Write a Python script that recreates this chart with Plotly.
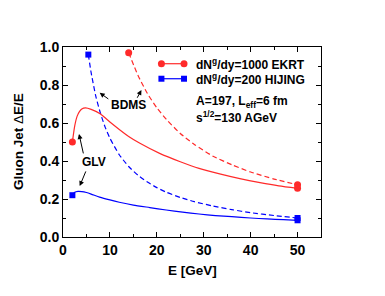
import plotly.graph_objects as go

# BDMS (dashed) curves
bdms_ekrt_E = [14, 16, 18, 20, 22, 25, 28, 32, 36, 40, 45, 50]
bdms_ekrt_dE = [0.97, 0.85, 0.755, 0.68, 0.62, 0.545, 0.487, 0.425, 0.38, 0.342, 0.305, 0.275]
bdms_hij_E = [5.4, 6, 7, 8, 9, 10, 12, 14, 16, 18, 20, 22, 25, 28, 32, 36, 40, 45, 50]
bdms_hij_dE = [0.96, 0.865, 0.74, 0.65, 0.577, 0.52, 0.433, 0.371, 0.325, 0.289, 0.26,
               0.236, 0.208, 0.186, 0.163, 0.144, 0.128, 0.113, 0.10]
# GLV (solid) curves
glv_ekrt_E = [2, 2.5, 3, 3.5, 4, 4.8, 6, 8, 10, 12, 14, 16.4, 20.6, 25, 29, 33.4, 37.7, 42, 46, 50]
glv_ekrt_dE = [0.50, 0.585, 0.635, 0.66, 0.674, 0.68, 0.672, 0.648, 0.605, 0.566, 0.529, 0.493,
               0.44, 0.396, 0.361, 0.332, 0.307, 0.286, 0.269, 0.256]
glv_hij_E = [2, 2.5, 3.2, 4, 5, 6, 7.8, 10, 12, 15, 18.5, 22, 25.5, 29, 32.5, 36, 40, 43.5, 47, 50]
glv_hij_dE = [0.22, 0.235, 0.24, 0.239, 0.234, 0.226, 0.21, 0.195, 0.183, 0.168, 0.155, 0.142,
              0.131, 0.121, 0.113, 0.107, 0.1, 0.095, 0.091, 0.088]

RED = "#ff2a2a"
BLUE = "#0000ff"
FONT = "Liberation Sans"

fig = go.Figure()

def add_curve(xs, ys, color, dash, symbol, size):
    fig.add_trace(go.Scatter(x=xs, y=ys, mode="lines", line=dict(color=color, width=1.2, dash=dash,
                                                                shape="spline", smoothing=0.6),
                             showlegend=False, hoverinfo="skip"))
    fig.add_trace(go.Scatter(x=[xs[0], xs[-1]], y=[ys[0], ys[-1]], mode="markers",
                             marker=dict(color=color, symbol=symbol, size=size, line=dict(width=0)),
                             showlegend=False, hoverinfo="skip"))

add_curve(bdms_ekrt_E, bdms_ekrt_dE, RED, "5px,3px", "circle", 7)
add_curve(bdms_hij_E, bdms_hij_dE, BLUE, "5px,3px", "square", 6)
add_curve(glv_ekrt_E, glv_ekrt_dE, RED, "solid", "circle", 7)
add_curve(glv_hij_E, glv_hij_dE, BLUE, "solid", "square", 6)

shapes = []
# legend samples
for yv, col, kind in [(0.912, RED, "circle"), (0.833, BLUE, "rect")]:
    shapes.append(dict(type="line", xref="x", yref="y", x0=20.98, x1=25.8, y0=yv, y1=yv,
                       line=dict(color=col, width=1.2)))
    for xv in (20.98, 25.8):
        r = 3.5 if kind == "circle" else 3
        shapes.append(dict(type=kind, xref="x", yref="y", xsizemode="pixel", ysizemode="pixel",
                           xanchor=xv, yanchor=yv, x0=-r, x1=r, y0=-r, y1=r,
                           fillcolor=col, line=dict(width=0)))

ann = []
lf = dict(family=FONT, size=12, color="black", weight="bold")
ann.append(dict(x=27.9, y=0.912, text="dN<sup>g</sup>/dy=1000 EKRT", showarrow=False, xanchor="left",
                yanchor="middle", font=lf))
ann.append(dict(x=27.9, y=0.833, text="dN<sup>g</sup>/dy=200 HIJING", showarrow=False, xanchor="left",
                yanchor="middle", font=lf))
ann.append(dict(x=27.9, y=0.709, text="A=197, L<sub>eff</sub>=6 fm", showarrow=False, xanchor="left",
                yanchor="middle", font=lf))
ann.append(dict(x=27.9, y=0.63, text="s<sup>1/2</sup>=130 AGeV", showarrow=False, xanchor="left",
                yanchor="middle", font=lf))
ann.append(dict(x=13.9, y=0.695, text="BDMS", showarrow=False, font=lf))
ann.append(dict(x=6.55, y=0.395, text="GLV", showarrow=False, font=lf))
for (tx, ty, hx, hy) in [(9.98, 0.721, 7.82, 0.759), (15.65, 0.725, 16.72, 0.774),
                         (4.41, 0.432, 3.41, 0.542), (4.99, 0.353, 3.56, 0.268)]:
    ann.append(dict(x=hx, y=hy, ax=tx, ay=ty, axref="x", ayref="y", xref="x", yref="y",
                    text="", showarrow=True, arrowhead=2, arrowsize=1, arrowwidth=1,
                    arrowcolor="black"))

titlefont = dict(family=FONT, size=13.5, color="black", weight="bold")
ann.append(dict(xref="paper", yref="paper", x=0.5, y=0, yshift=-33, text="E [GeV]", showarrow=False,
                xanchor="center", yanchor="middle", font=titlefont))
ann.append(dict(xref="paper", yref="paper", x=0, y=0.5, xshift=-45, textangle=-90,
                text="Gluon Jet <span style='font-weight:normal'>Δ</span>E/E", showarrow=False,
                xanchor="center", yanchor="middle", font=titlefont))

tickfont = dict(family=FONT, size=14, color="black", weight="bold")
fig.update_layout(
    width=385, height=296,
    margin=dict(l=55, r=72, t=39, b=67),
    paper_bgcolor="white", plot_bgcolor="white",
    shapes=shapes, annotations=ann,
    xaxis=dict(range=[0, 55], tickvals=[0, 10, 20, 30, 40, 50], ticks="inside", ticklen=5,
               tickcolor="black", showline=True, linecolor="black", linewidth=1, mirror="allticks",
               showgrid=False, zeroline=False, tickfont=tickfont, automargin=False,
               minor=dict(dtick=5, tick0=0, ticks="inside", ticklen=3, tickcolor="black")),
    yaxis=dict(range=[0, 1], tickvals=[0, 0.2, 0.4, 0.6, 0.8, 1.0],
               ticktext=["0.0", "0.2", "0.4", "0.6", "0.8", "1.0"], ticks="inside", ticklen=5,
               tickcolor="black", showline=True, linecolor="black", linewidth=1, mirror="allticks",
               showgrid=False, zeroline=False, tickfont=tickfont, automargin=False,
               minor=dict(dtick=0.1, tick0=0, ticks="inside", ticklen=3, tickcolor="black")),
)

fig.write_html("out.html")
